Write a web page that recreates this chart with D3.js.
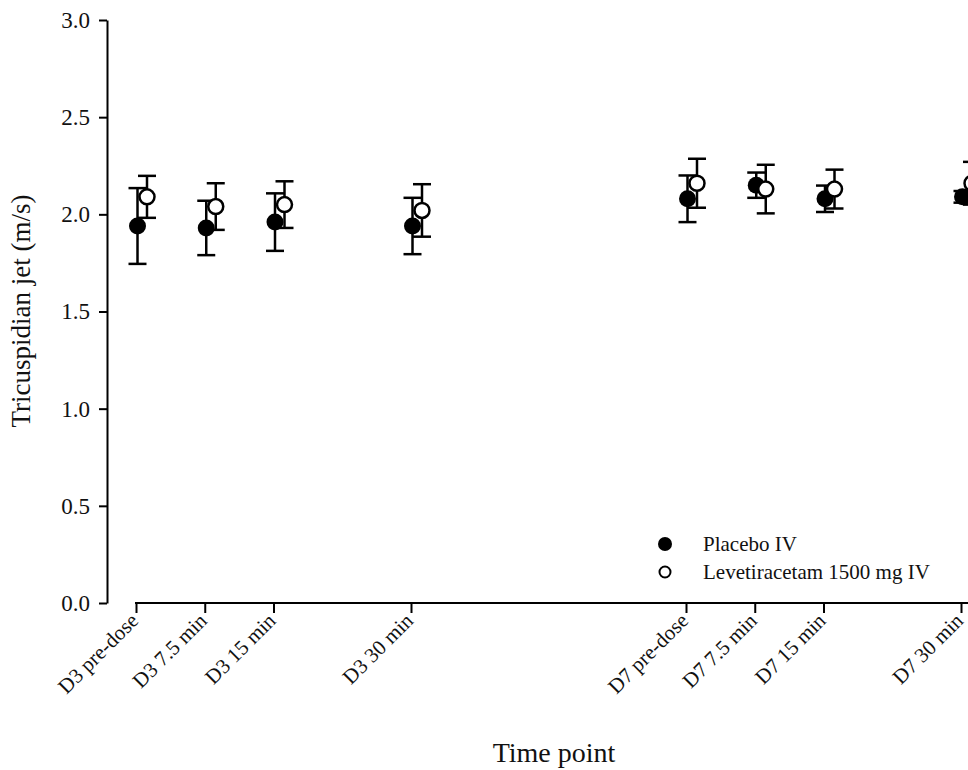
<!DOCTYPE html>
<html lang="en">

<head>
    <meta charset="UTF-8" />
    <title>Tricuspidian jet by time point</title>
    <script src="https://d3js.org/d3.v7.min.js"></script>
    <style>
        body {
            margin: 0;
            background: #fff;
        }

        svg text {
            font-family: "Liberation Serif", "Times New Roman", serif;
            fill: #111;
        }

        .axis path,
        .axis line {
            stroke: #000;
            stroke-width: 2;
        }
    </style>
</head>

<body>
    <svg id="chart" width="968" height="770"></svg>
    <script>
        // time points (nominal plotting minute, D7 block shifted by 60)
        const categories = [
            "D3 pre-dose", "D3 7.5 min", "D3 15 min", "D3 30 min",
            "D7 pre-dose", "D7 7.5 min", "D7 15 min", "D7 30 min"
        ];
        const timeMin = [0, 7.5, 15, 30, 60, 67.5, 75, 90];

        // Placebo IV, mean and SD (m/s)
        const placeboMean = [1.94, 1.93, 1.96, 1.94, 2.08, 2.15, 2.08, 2.09];
        const placeboSD = [0.195, 0.14, 0.148, 0.145, 0.12, 0.065, 0.068, 0.03];

        // Levetiracetam 1500 mg IV, mean and SD (m/s)
        const levMean = [2.09, 2.04, 2.05, 2.02, 2.16, 2.13, 2.13, 2.16];
        const levSD = [0.108, 0.12, 0.12, 0.135, 0.126, 0.125, 0.1, 0.11];

        const yTicks = [0, 0.5, 1.0, 1.5, 2.0, 2.5, 3.0];

        const seriesNames = ["Placebo IV", "Levetiracetam 1500 mg IV"];

        const svg = d3.select("svg#chart");

        const xScale = d3.scaleLinear().domain([0, 90]).range([136, 961]);
        const yScale = d3.scaleLinear().domain([0, 3]).range([603, 20]);

        // y axis
        svg.append("g")
            .attr("class", "y axis")
            .attr("transform", "translate(107,0)")
            .call(d3.axisLeft(yScale)
                .tickValues(yTicks)
                .tickFormat(d3.format(".1f"))
                .tickSize(8)
                .tickSizeOuter(0)
                .tickPadding(9))
            .selectAll("text")
            .style("font-size", "23px");

        // x axis (ticks only, line drawn separately to run to the edge)
        const xAxis = svg.append("g")
            .attr("class", "x axis")
            .attr("transform", "translate(0,603)")
            .call(d3.axisBottom(xScale)
                .tickValues(timeMin)
                .tickFormat((d, i) => categories[i])
                .tickSize(10)
                .tickSizeOuter(0));

        xAxis.select(".domain").remove();
        xAxis.append("line")
            .attr("x1", xScale(0) - 1)
            .attr("x2", 970)
            .attr("y1", 0)
            .attr("y2", 0);

        xAxis.selectAll(".tick text")
            .style("font-size", "21px")
            .attr("text-anchor", "end")
            .attr("x", 0)
            .attr("y", 0)
            .attr("dy", 0)
            .attr("transform", "translate(3,19) rotate(-45)");

        // axis titles
        svg.append("text")
            .attr("transform", "translate(30,311) rotate(-90)")
            .attr("text-anchor", "middle")
            .style("font-size", "27px")
            .text("Tricuspidian jet (m/s)");

        svg.append("text")
            .attr("x", 554)
            .attr("y", 762)
            .attr("text-anchor", "middle")
            .style("font-size", "28px")
            .text("Time point");

        // error bars + markers
        const drawSeries = (means, sds, dx, filled) => {
            const rows = means.map((m, i) => ({ t: timeMin[i], m: m, sd: sds[i] }));
            const g = svg.append("g");

            g.selectAll("line.bar")
                .data(rows)
                .join("line")
                .attr("class", "bar")
                .attr("x1", (d) => xScale(d.t) + dx)
                .attr("x2", (d) => xScale(d.t) + dx)
                .attr("y1", (d) => yScale(d.m + d.sd))
                .attr("y2", (d) => yScale(d.m - d.sd))
                .attr("stroke", "#000")
                .attr("stroke-width", 2.5);

            ["top", "bottom"].forEach((end) => {
                g.selectAll("line.cap-" + end)
                    .data(rows)
                    .join("line")
                    .attr("class", "cap-" + end)
                    .attr("x1", (d) => xScale(d.t) + dx - 9)
                    .attr("x2", (d) => xScale(d.t) + dx + 9)
                    .attr("y1", (d) => yScale(end === "top" ? d.m + d.sd : d.m - d.sd))
                    .attr("y2", (d) => yScale(end === "top" ? d.m + d.sd : d.m - d.sd))
                    .attr("stroke", "#000")
                    .attr("stroke-width", 2.5);
            });

            g.selectAll("circle")
                .data(rows)
                .join("circle")
                .attr("cx", (d) => xScale(d.t) + dx)
                .attr("cy", (d) => yScale(d.m))
                .attr("r", filled ? 8.5 : 7.5)
                .attr("fill", filled ? "#000" : "#fff")
                .attr("stroke", "#000")
                .attr("stroke-width", filled ? 0 : 2.5);
        };

        drawSeries(placeboMean, placeboSD, 1.5, true);
        drawSeries(levMean, levSD, 11, false);

        // legend
        const legend = svg.append("g").attr("transform", "translate(665,544)");
        seriesNames.forEach((name, i) => {
            const row = legend.append("g").attr("transform", `translate(0,${i * 28})`);
            row.append("circle")
                .attr("r", i === 0 ? 7 : 5.5)
                .attr("fill", i === 0 ? "#000" : "#fff")
                .attr("stroke", "#000")
                .attr("stroke-width", i === 0 ? 0 : 2);
            row.append("text")
                .attr("x", 38)
                .attr("y", 7)
                .style("font-size", "21px")
                .text(name);
        });
    </script>
</body>

</html>
